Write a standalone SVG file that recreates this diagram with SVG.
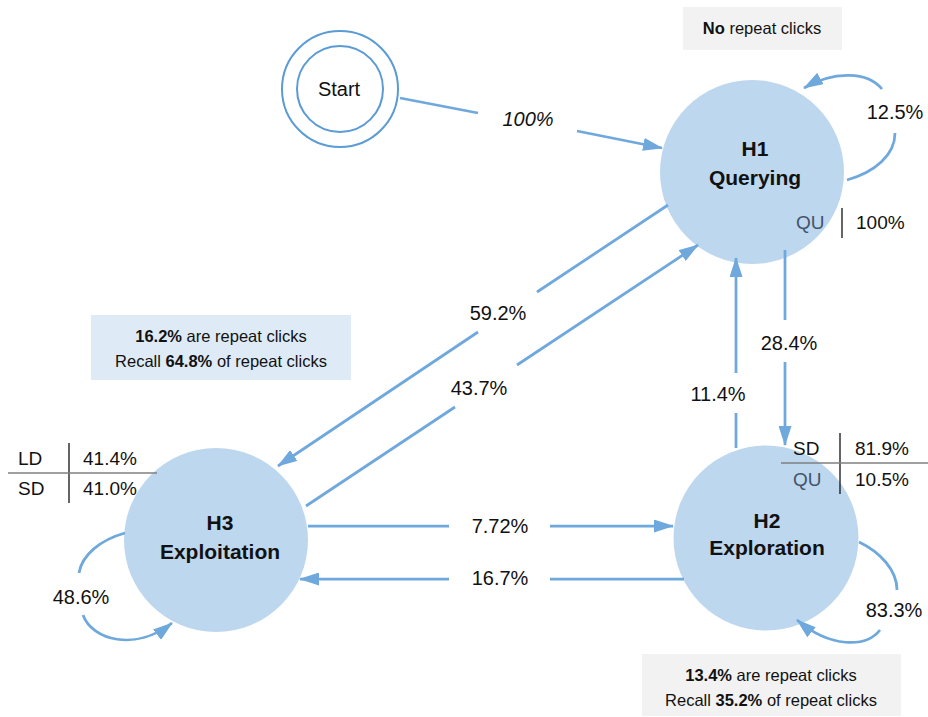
<svg xmlns="http://www.w3.org/2000/svg" width="928" height="717" viewBox="0 0 928 717">
<style>
  text { font-family: "Liberation Sans", Arial, sans-serif; fill: #111; }
  .node { fill: #bdd7ee; }
  .nlabel { font-size: 21px; font-weight: bold; text-anchor: middle; }
  .elabel { font-size: 20px; text-anchor: middle; }
  .edge { fill: none; stroke: #6fa8dc; stroke-width: 2.75; marker-end: url(#arr); }
  .tbl { font-size: 19px; }
  .gray { fill: #44546a; }
  .vline { stroke: #111; stroke-width: 1.3; }
  .hline { stroke: #7f7f7f; stroke-width: 1.5; }
  .box { font-size: 16.5px; text-anchor: middle; }
</style>
<defs>
  <marker id="arr" viewBox="0 0 20 13" markerWidth="20" markerHeight="13" markerUnits="userSpaceOnUse" refX="19" refY="6.5" orient="auto">
    <path d="M0,0 L20,6.5 L0,13 z" fill="#6fa8dc"/>
  </marker>
</defs>

<g id="info-h1">
  <rect x="683" y="7" width="159" height="43" fill="#f2f2f2"/>
  <text class="box" x="762" y="34"><tspan font-weight="bold">No</tspan> repeat clicks</text>
</g>
<g id="info-h3">
  <rect x="91" y="315" width="260" height="65" fill="#deebf7"/>
  <text class="box" x="221" y="342"><tspan font-weight="bold">16.2%</tspan> are repeat clicks</text>
  <text class="box" x="221" y="367">Recall <tspan font-weight="bold">64.8%</tspan> of repeat clicks</text>
</g>
<g id="info-h2">
  <rect x="642" y="654" width="259" height="62" fill="#f2f2f2"/>
  <text class="box" x="771" y="681"><tspan font-weight="bold">13.4%</tspan> are repeat clicks</text>
  <text class="box" x="771" y="706">Recall <tspan font-weight="bold">35.2%</tspan> of repeat clicks</text>
</g>

<g id="start">
  <circle cx="340" cy="89" r="58" fill="none" stroke="#5b9bd5" stroke-width="2"/>
  <circle cx="340" cy="89" r="43" fill="none" stroke="#5b9bd5" stroke-width="2"/>
  <text x="339" y="96" font-size="20" text-anchor="middle">Start</text>
</g>

<g id="h1">
  <circle class="node" cx="752" cy="172" r="92"/>
  <text class="nlabel" x="755" y="156">H1</text>
  <text class="nlabel" x="755" y="185">Querying</text>
  <text class="tbl gray" x="796" y="229">QU</text>
  <line class="vline" x1="842" y1="208" x2="842" y2="238"/>
  <text class="tbl" x="856" y="229">100%</text>
</g>

<g id="h2">
  <circle class="node" cx="766" cy="538" r="92.5"/>
  <text class="nlabel" x="767" y="528">H2</text>
  <text class="nlabel" x="767" y="555">Exploration</text>
  <text class="tbl" x="793" y="455">SD</text>
  <text class="tbl" x="855" y="455">81.9%</text>
  <text class="tbl gray" x="793" y="486">QU</text>
  <text class="tbl" x="855" y="486">10.5%</text>
  <line class="vline" x1="840" y1="433" x2="840" y2="494"/>
  <line class="hline" x1="781" y1="463" x2="928" y2="463"/>
</g>

<g id="h3">
  <circle class="node" cx="216" cy="540" r="92"/>
  <text class="nlabel" x="220" y="530">H3</text>
  <text class="nlabel" x="220" y="559">Exploitation</text>
  <text class="tbl" x="18" y="465">LD</text>
  <text class="tbl" x="83" y="465">41.4%</text>
  <text class="tbl" x="18" y="495">SD</text>
  <text class="tbl" x="83" y="495">41.0%</text>
  <line class="vline" x1="69" y1="443" x2="69" y2="503"/>
  <line class="hline" x1="8" y1="473" x2="157" y2="473"/>
</g>

<g id="connectors">
  <path class="edge" d="M400,98 L478,113 M577,131 L662,148"/>
  <text class="elabel" x="528" y="126" font-size="19" font-style="italic">100%</text>

  <path class="edge" d="M668,205 L537,292 M478,332 L278,466"/>
  <text class="elabel" x="498" y="320">59.2%</text>

  <path class="edge" d="M306,506 L455,407 M517,365 L698,245"/>
  <text class="elabel" x="479" y="395">43.7%</text>

  <path class="edge" d="M785,250 L785,320 M785,362 L785,445"/>
  <text class="elabel" x="789" y="350">28.4%</text>

  <path class="edge" d="M736,448 L736,413 M736,373 L736,258"/>
  <text class="elabel" x="718" y="401">11.4%</text>

  <path class="edge" d="M308,526 L449,526 M550,526 L673,526"/>
  <text class="elabel" x="500" y="533">7.72%</text>

  <path class="edge" d="M684,579 L550,579 M449,579 L300,579"/>
  <text class="elabel" x="500" y="585">16.7%</text>

  <path class="edge" d="M847,180 C875,172 895,155 895,133 M882,89 C868,72 835,70 804,88"/>
  <text class="elabel" x="895" y="119">12.5%</text>

  <path class="edge" d="M859,542 C880,552 897,570 897,590 M880,630 C866,648 830,648 797,620"/>
  <text class="elabel" x="894" y="617">83.3%</text>

  <path class="edge" d="M125,533 C100,540 82,555 79,573 M83,615 C92,640 135,652 172,623"/>
  <text class="elabel" x="81" y="604">48.6%</text>
</g>
</svg>
